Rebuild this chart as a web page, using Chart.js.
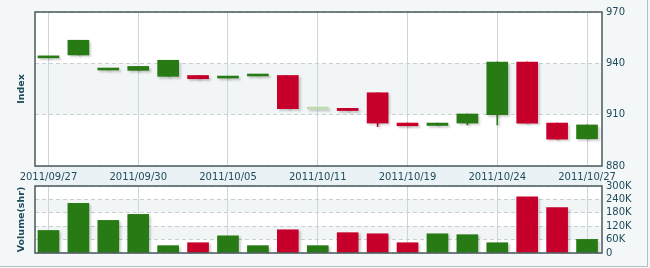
<!DOCTYPE html>
<html><head><meta charset="utf-8">
<script src="https://cdn.jsdelivr.net/npm/chart.js@4/dist/chart.umd.min.js"></script>
<style>
html,body{margin:0;padding:0;background:#f3f7f8;}
#wrap{position:relative;width:647px;height:266px;border-right:1px solid #b4c0c4;border-bottom:1px solid #b4c0c4;background:#f3f7f8;}
canvas{position:absolute;left:0;top:0;}
</style></head>
<body>
<div id="wrap">
<canvas id="price" width="650" height="268"></canvas>
<canvas id="vol" width="650" height="268"></canvas>
</div>
<script>
const dates = ['2011/09/27','2011/09/28','2011/09/29','2011/09/30','2011/10/03','2011/10/04','2011/10/05','2011/10/06','2011/10/07','2011/10/11','2011/10/12','2011/10/13','2011/10/19','2011/10/20','2011/10/21','2011/10/24','2011/10/25','2011/10/26','2011/10/27'];
const openV  = [943.2, 944.9, 936.1, 935.9, 932.4, 932.9, 931.4, 932.6, 932.9, 913.3, 913.7, 922.8, 905.1, 903.7, 905.1, 910.0, 940.8, 905.1, 895.9];
const closeV = [943.6, 953.5, 936.5, 938.2, 941.8, 931.0, 931.8, 933.0, 913.5, 913.3, 912.4, 905.1, 903.5, 905.1, 910.4, 940.8, 905.1, 895.7, 904.0];
const highV  = [943.6, 953.5, 936.5, 938.2, 941.8, 932.9, 931.8, 933.0, 932.9, 913.3, 913.7, 922.8, 905.1, 905.1, 910.4, 940.8, 940.8, 905.1, 904.0];
const lowV   = [943.2, 944.9, 936.1, 935.9, 932.4, 931.0, 931.4, 932.6, 913.5, 913.3, 912.4, 903.0, 903.5, 903.7, 904.0, 904.0, 905.1, 895.7, 895.9];
const volume = [101000, 222000, 146000, 173000, 33000, 46000, 77000, 33000, 104000, 33000, 91000, 86000, 46000, 86000, 82000, 46000, 252000, 203000, 61000];
const priceTicks = [880, 910, 940, 970];
const volTicks = [0, 60000, 120000, 180000, 240000, 300000];
const labelEvery = 3;

const GREEN = '#287a14', RED = '#c6002b', PALE = '#bcdcae';
const TXT = '#1f4b5a';
const FONT = 'DejaVu Sans';
Chart.defaults.font.family = FONT;
Chart.defaults.font.size = 10;
Chart.defaults.color = TXT;

const candleColor = openV.map((o,i)=> closeV[i]>o ? GREEN : (closeV[i]<o ? RED : PALE));
const volColor = openV.map((o,i)=> closeV[i]>=o ? GREEN : RED);

function bandsPlugin(bands){
  return {
    id:'bands',
    beforeDraw(chart){
      const {ctx, chartArea:a, scales} = chart;
      ctx.save();
      ctx.fillStyle = '#ffffff';
      ctx.fillRect(a.left, a.top, a.width, a.height);
      ctx.fillStyle = '#f2f5f6';
      bands.forEach(([lo,hi])=>{
        const y1 = scales.y.getPixelForValue(hi), y2 = scales.y.getPixelForValue(lo);
        ctx.fillRect(a.left, y1, a.width, y2-y1);
      });
      ctx.restore();
    },
    beforeDatasetsDraw(chart){
      const ctx = chart.ctx; ctx.save();
      ctx.shadowColor='rgba(0,0,0,0.18)'; ctx.shadowBlur=2; ctx.shadowOffsetX=2; ctx.shadowOffsetY=2;
    },
    afterDatasetsDraw(chart){
      const {ctx, chartArea:a} = chart;
      ctx.restore();
      ctx.save();
      ctx.strokeStyle = '#4a5858';
      ctx.lineWidth = 1.5;
      ctx.strokeRect(a.left, a.top, a.width, a.height);
      ctx.restore();
    }
  };
}
function stripPlugin(){
  return {id:'strip', beforeDraw(chart){
    const {ctx, chartArea:a} = chart;
    ctx.save(); ctx.fillStyle='#eaf2f5';
    ctx.fillRect(a.left, a.bottom, a.width, 20); ctx.restore();
  }};
}

const xScale = (showLabels, h) => ({
  type:'linear', position:'bottom', min:-0.45, max:18.5, offset:false,
  afterBuildTicks(s){ s.ticks = dates.map((d,i)=>i).filter(i=>i%labelEvery===0).map(v=>({value:v})); },
  afterFit(s){ s.height = h; },
  grid:{color:'#c9d8dc', lineWidth:1, drawTicks:false, offset:false},
  border:{display:false},
  ticks:{display:showLabels, autoSkip:false, maxRotation:0, padding:5,
    callback:(v)=> dates[v] ?? ''}
});

new Chart(document.getElementById('price'), {
  type:'bar',
  data:{datasets:[
    {data: dates.map((d,i)=>({x:i, y:[Math.min(openV[i],closeV[i]), Math.max(openV[i],closeV[i])]})),
     xAxisID:'x', yAxisID:'y',
     backgroundColor:candleColor, barThickness:21, minBarLength:2, grouped:false, order:0, borderSkipped:false},
    {data: dates.map((d,i)=>({x:i, y:[lowV[i], highV[i]]})),
     xAxisID:'x', yAxisID:'y',
     backgroundColor:candleColor, barThickness:1, grouped:false, order:1}
  ]},
  options:{
    responsive:false, animation:false, devicePixelRatio:1,
    layout:{padding:{left:0,right:0,top:12,bottom:82}},
    plugins:{legend:{display:false}, tooltip:{enabled:false}},
    scales:{
      x: xScale(true, 20),
      yl:{position:'left', afterFit(s){ s.width = 35; }, ticks:{display:false}, grid:{display:false}, border:{display:false},
          title:{display:true, text:'Index', font:{size:9.5, weight:'bold'}, color:TXT, padding:{top:16,bottom:0}}},
      y:{position:'right', min:880, max:970, afterFit(s){ s.width = 48; },
         afterBuildTicks(s){ s.ticks = priceTicks.map(v=>({value:v})); },
         grid:{color:'#c8d0d4', drawTicks:false}, border:{display:false, dash:[4,3]},
         ticks:{padding:4, autoSkip:false}}
    }
  },
  plugins:[bandsPlugin([[910,940]]), stripPlugin()]
});

new Chart(document.getElementById('vol'), {
  type:'bar',
  data:{datasets:[
    {data: dates.map((d,i)=>({x:i, y:volume[i]})), xAxisID:'x', yAxisID:'y',
     backgroundColor:volColor, barThickness:21, grouped:false}
  ]},
  options:{
    responsive:false, animation:false, devicePixelRatio:1,
    layout:{padding:{left:0,right:0,top:186,bottom:15}},
    plugins:{legend:{display:false}, tooltip:{enabled:false}},
    scales:{
      x: xScale(false, 0),
      yl:{position:'left', afterFit(s){ s.width = 35; }, ticks:{display:false}, grid:{display:false}, border:{display:false},
          title:{display:true, text:'Volume(shr)', font:{size:9.5, weight:'bold'}, color:TXT, padding:{top:16,bottom:0}}},
      y:{position:'right', min:0, max:300000, afterFit(s){ s.width = 48; },
         afterBuildTicks(s){ s.ticks = volTicks.map(v=>({value:v})); },
         grid:{color:'#c8d0d4', drawTicks:false}, border:{display:false, dash:[4,3]},
         ticks:{padding:4, autoSkip:false, callback:(v)=> v===0 ? '0' : (v/1000)+'K'}}
    }
  },
  plugins:[bandsPlugin([[180000,240000],[60000,120000]])]
});
</script>
</body></html>
